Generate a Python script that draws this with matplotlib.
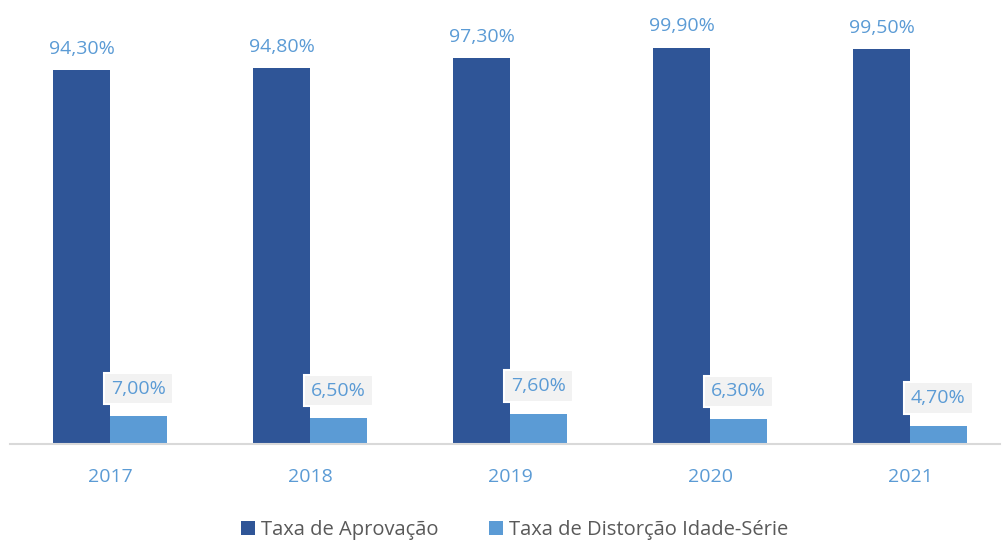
import numpy as np
import matplotlib.pyplot as plt

years = ['2017', '2018', '2019', '2020', '2021']
aprovacao = [94.3, 94.8, 97.3, 99.9, 99.5]
distorcao = [7.0, 6.5, 7.6, 6.3, 4.7]

dark = '#2F5597'
light = '#5B9BD5'

plt.rcParams['font.family'] = ['Open Sans', 'DejaVu Sans']

fig = plt.figure(figsize=(10.03, 5.45), dpi=100)
ax = fig.add_axes([0.01, 0.185, 0.987, 0.728])

x = np.arange(len(years))
w = 0.285
b1 = ax.bar(x - w / 2, aprovacao, w, color=dark, label='Taxa de Aprovação')
b2 = ax.bar(x + w / 2, distorcao, w, color=light, label='Taxa de Distorção Idade-Série')

# dark bar labels sit just above the bars
for rect, v in zip(b1, aprovacao):
    ax.annotate(f'{v:.2f}%'.replace('.', ','),
                (rect.get_x() + rect.get_width() / 2, v),
                xytext=(0, 9), textcoords='offset points',
                ha='center', va='bottom', fontsize=14, color=light,
                annotation_clip=False)

# light bar labels in a grey box
for rect, v in zip(b2, distorcao):
    ax.annotate(f'{v:.2f}%'.replace('.', ','),
                (rect.get_x() + rect.get_width() / 2, v),
                xytext=(0, 20), textcoords='offset points',
                ha='center', va='center', fontsize=14, color=light,
                bbox=dict(boxstyle='square,pad=0.35', facecolor='#F2F2F2',
                          edgecolor='white', linewidth=1.5))

ax.set_xlim(-0.5, 4.45)
ax.set_ylim(0, 100)
ax.set_xticks(x)
ax.set_xticklabels(years, fontsize=14, color=light)
ax.tick_params(axis='x', length=0, pad=17)
ax.set_yticks([])
for s in ['top', 'right', 'left']:
    ax.spines[s].set_visible(False)
ax.spines['bottom'].set_color('#D9D9D9')
ax.spines['bottom'].set_linewidth(1.5)

leg = ax.legend(loc='upper center', bbox_to_anchor=(0.51, -0.145), ncol=2,
                frameon=False, fontsize=14.5, handlelength=0.7, handleheight=0.7,
                handletextpad=0.3, columnspacing=2.5)
for t in leg.get_texts():
    t.set_color('#595959')

fig.savefig('out.png', dpi=100)
